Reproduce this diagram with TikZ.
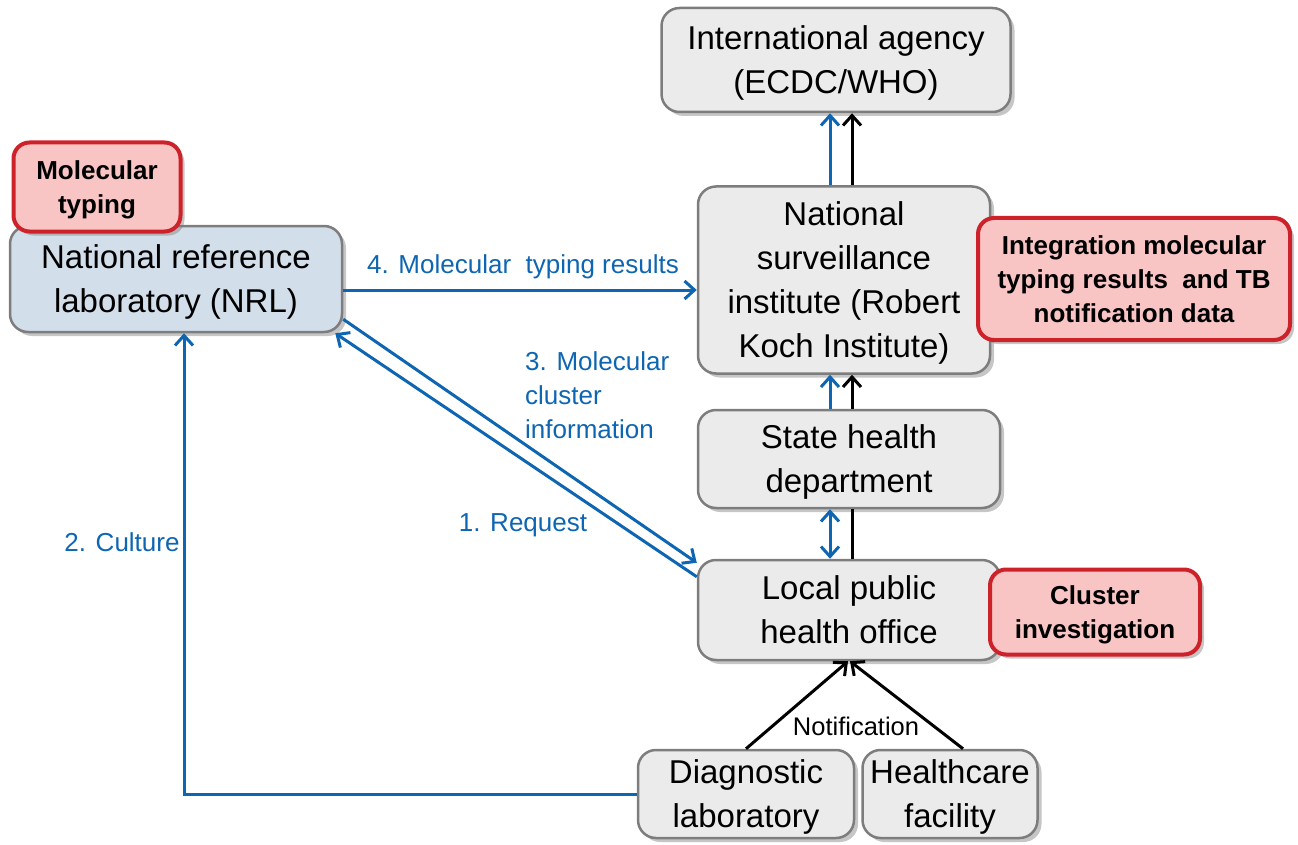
\documentclass[tikz,border=0pt]{standalone}
\usepackage{fontspec}
\setmainfont{Liberation Sans}
\usetikzlibrary{arrows.meta,shadows}

\definecolor{flowblue}{RGB}{14,101,177}
\definecolor{boxfill}{RGB}{235,235,235}
\definecolor{boxedge}{RGB}{125,125,125}
\definecolor{nrlfill}{RGB}{210,222,234}
\definecolor{notefill}{RGB}{248,196,196}
\definecolor{noteedge}{RGB}{206,34,42}

\begin{document}
\begin{tikzpicture}[x=1pt,y=-1pt,
    box/.style={draw=boxedge,fill=boxfill,line width=2.5pt,rounded corners=18pt,
      align=center,inner sep=0pt,text depth=0pt,font=\fontsize{33}{44}\selectfont,
      drop shadow={shadow xshift=4pt,shadow yshift=-4pt,opacity=.45}},
    note/.style={draw=noteedge,fill=notefill,line width=4pt,rounded corners=16pt,
      align=center,inner sep=0pt,text depth=0pt,font=\bfseries\fontsize{26}{34}\selectfont,
      drop shadow={shadow xshift=4pt,shadow yshift=-4pt,opacity=.45}},
    lbl/.style={text=flowblue,font=\fontsize{26}{34}\selectfont,inner sep=0pt},
    barb/.tip={Straight Barb[length=10pt,width=18pt]},
    flow/.style={draw=flowblue,line width=3pt,-barb},
    flowboth/.style={draw=flowblue,line width=3pt,barb-barb},
    report/.style={draw=black,line width=3pt,-barb}]
  \useasboundingbox (0,0) rectangle (1298,845);

  \node[box,minimum width=349pt,minimum height=104pt] (intl) at (836,60) {International agency\\(ECDC/WHO)};
  \node[box,minimum width=292pt,minimum height=187pt] (surv) at (844,280) {National\\surveillance\\institute (Robert\\Koch Institute)};
  \node[box,minimum width=302pt,minimum height=98pt] (state) at (849,459) {State health\\department};
  \node[box,minimum width=302pt,minimum height=100pt] (local) at (849,610) {Local public\\health office};
  \node[box,minimum width=216pt,minimum height=88pt] (diag) at (746,794) {Diagnostic\\laboratory};
  \node[box,minimum width=175pt,minimum height=88pt] (hcare) at (950,794) {Healthcare\\facility};
  \node[box,fill=nrlfill,minimum width=332pt,minimum height=106pt] (nrl) at (176,279) {National reference\\laboratory (NRL)};

  \node[note,minimum width=167pt,minimum height=89pt] (moltyp) at (97,187) {Molecular\\typing};
  \node[note,minimum width=312pt,minimum height=122pt] (integ) at (1134,279) {Integration molecular\\typing results \ and TB\\notification data};
  \node[note,minimum width=210pt,minimum height=85pt] (clust) at (1095,612) {Cluster\\investigation};

  % vertical reporting chain
  \coordinate (bx) at (830,0);
  \coordinate (kx) at (852,0);
  \draw[flow] (surv.north -| bx) -- (intl.south -| bx);
  \draw[report] (surv.north -| kx) -- (intl.south -| kx);
  \draw[flow] (state.north -| bx) -- (surv.south -| bx);
  \draw[report] (state.north -| kx) -- (surv.south -| kx);
  \draw[flowboth] (local.north -| bx) -- (state.south -| bx);
  \draw[line width=3pt] (local.north -| kx) -- (state.south -| kx);

  % notification
  \draw[report] (diag.north) -- ([xshift=-1pt]local.south);
  \draw[report] ([xshift=13pt]hcare.north) -- ([xshift=1pt]local.south);
  \node[font=\fontsize{25.5}{28}\selectfont,inner sep=0pt] (notif) at (856,726) {Notification};

  % NRL exchanges
  \coordinate (r4) at (0,290);
  \draw[flow] (nrl.east |- r4) -- (surv.west |- r4);
  \node[lbl] (l4) at (523,267) {4. Molecular \ typing results};
  \draw[flow] ([yshift=14pt]nrl.south east) -- ([yshift=-4pt]local.north west);
  \draw[flow] ([yshift=-18pt]local.north west) -- ([xshift=-8pt]nrl.south east);
  \node[lbl,align=left,anchor=west] (l3) at (525,395) {3. Molecular\\cluster\\information};
  \node[lbl] (l1) at (523,525) {1. Request};
  \draw[flow] (diag.west) -| ([xshift=8pt]nrl.south);
  \node[lbl] (l2) at (122,542) {2. Culture};
\end{tikzpicture}
\end{document}
